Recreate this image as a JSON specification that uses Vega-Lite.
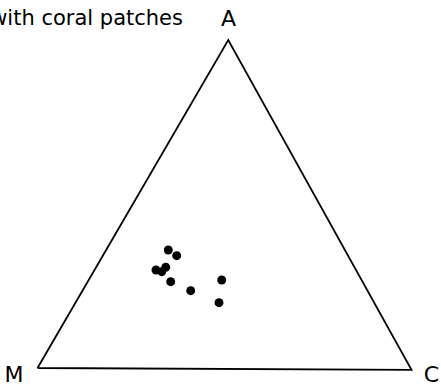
{
  "$schema": "https://vega.github.io/schema/vega-lite/v6.json",
  "width": 441,
  "height": 389,
  "autosize": {"type": "none"},
  "padding": 0,
  "background": "white",
  "config": {"view": {"stroke": null}},
  "datasets": {
    "tri": [
      {"i": 0, "x": 0, "y": 0},
      {"i": 1, "x": 51.0, "y": 86.6},
      {"i": 2, "x": 100, "y": -0.5},
      {"i": 3, "x": 0, "y": 0}
    ],
    "pts": [
      {"x": 34.97, "y": 31.15},
      {"x": 37.22, "y": 29.65},
      {"x": 31.68, "y": 25.87},
      {"x": 33.21, "y": 25.43},
      {"x": 34.28, "y": 26.59},
      {"x": 35.61, "y": 22.79},
      {"x": 40.96, "y": 20.41},
      {"x": 49.25, "y": 23.23},
      {"x": 48.53, "y": 17.24}
    ],
    "labels": [
      {"label": "A", "x": 51.07, "y": 92.15},
      {"label": "M", "x": -6.28, "y": -1.85},
      {"label": "C", "x": 105.35, "y": -1.98}
    ],
    "title": [
      {"label": "with coral patches", "x": 38.9, "y": 90.56}
    ]
  },
  "layer": [
    {
      "data": {"name": "tri"},
      "mark": {"type": "line", "color": "black", "strokeWidth": 1.8, "strokeJoin": "miter"},
      "encoding": {
        "x": {"field": "x", "type": "quantitative", "scale": {"domain": [-10.03, 107.89], "nice": false, "zero": false}, "axis": null},
        "y": {"field": "y", "type": "quantitative", "scale": {"domain": [-5.545, 97.16], "nice": false, "zero": false}, "axis": null},
        "order": {"field": "i"}
      }
    },
    {
      "data": {"name": "pts"},
      "mark": {"type": "circle", "color": "black", "opacity": 1, "size": 80},
      "encoding": {
        "x": {"field": "x", "type": "quantitative"},
        "y": {"field": "y", "type": "quantitative"}
      }
    },
    {
      "data": {"name": "labels"},
      "mark": {"type": "text", "font": "DejaVu Sans", "fontSize": 22, "align": "center", "baseline": "middle", "color": "black"},
      "encoding": {
        "x": {"field": "x", "type": "quantitative"},
        "y": {"field": "y", "type": "quantitative"},
        "text": {"field": "label"}
      }
    },
    {
      "data": {"name": "title"},
      "mark": {"type": "text", "font": "DejaVu Sans", "fontSize": 21, "align": "right", "baseline": "alphabetic", "color": "black"},
      "encoding": {
        "x": {"field": "x", "type": "quantitative"},
        "y": {"field": "y", "type": "quantitative"},
        "text": {"field": "label"}
      }
    }
  ]
}
